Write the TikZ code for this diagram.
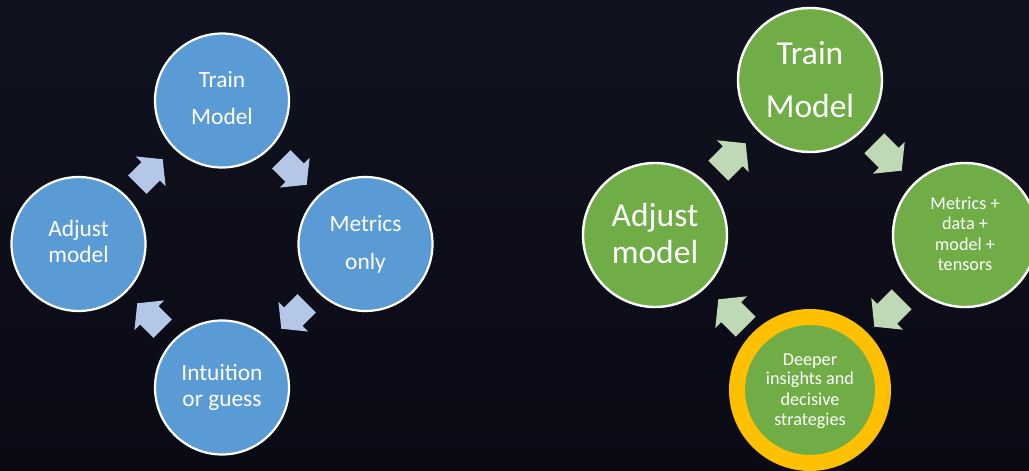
\documentclass[tikz,border=0pt]{standalone}
\usepackage{fontspec}
\setmainfont{Carlito}
\definecolor{bgtop}{HTML}{10121F}
\definecolor{bgbot}{HTML}{0A0A15}
\definecolor{cblue}{HTML}{5B9BD5}
\definecolor{ablue}{HTML}{B4C7E7}
\definecolor{cgreen}{HTML}{70AD47}
\definecolor{agreen}{HTML}{BFD8B5}
\definecolor{gold}{HTML}{FFC000}
\tikzset{
  disc/.style={circle, draw=white, inner sep=0pt},
  bluedisc/.style={disc, fill=cblue, minimum size=134pt, line width=2.2pt},
  greendisc/.style={disc, fill=cgreen, minimum size=144pt, line width=2.4pt},
  golddisc/.style={circle, inner sep=0pt, fill=cgreen, draw=gold, minimum size=146pt, line width=16pt},
  txt/.style={text=white, anchor=base, inner sep=0pt},
  tsmall/.style={txt, font=\fontsize{23.4}{28}\selectfont},
  tbig/.style={txt, font=\fontsize{33.5}{40}\selectfont},
  tfine/.style={txt, font=\fontsize{18.2}{22}\selectfont},
  blockarrow/.pic={
    \fill (-18,-13) -- (1,-13) -- (1,-21) -- (18,0) -- (1,21) -- (1,13) -- (-18,13) -- cycle;
  }
}
\begin{document}
\begin{tikzpicture}[x=1pt, y=-1pt]
\useasboundingbox (0,0) rectangle (1029,471);
\clip (0,0) rectangle (1029,471);
\shade[top color=bgtop, bottom color=bgbot] (0,0) rectangle (1029,471);

% ---- basic loop: metrics only ----
\node[bluedisc] (lt) at (222,100.5) {};
\node[bluedisc] (lr) at (365.5,244) {};
\node[bluedisc] (lb) at (222,387.5) {};
\node[bluedisc] (ll) at (78.5,244) {};

\node[tsmall] (lt1) at (222,87.7) {Train};
\node[tsmall] (lt2) at (222,124.5) {Model};
\node[tsmall] (lr1) at (365.5,231) {Metrics};
\node[tsmall] (lr2) at (365.5,269) {only};
\node[tsmall] (lb1) at (222,380) {Intuition};
\node[tsmall] (lb2) at (222,406.7) {or guess};
\node[tsmall] (ll1) at (78.5,236.7) {Adjust};
\node[tsmall] (ll2) at (78.5,262.5) {model};

\begin{scope}[ablue]
  \pic[rotate=45]   at (150,172) {blockarrow};
  \pic[rotate=-45]  at (294,172) {blockarrow};
  \pic[rotate=-135] at (294,316) {blockarrow};
  \pic[rotate=135]  at (150,316) {blockarrow};
\end{scope}

% ---- richer loop: metrics, data, model and tensors ----
\node[greendisc] (rt) at (810,80) {};
\node[greendisc] (rr) at (965,235) {};
\node[golddisc]  (rb) at (810,390) {};
\node[greendisc] (rl) at (655,235) {};

\node[tbig] (rt1) at (810,64) {Train};
\node[tbig] (rt2) at (810,117.3) {Model};
\node[tbig] (rl1) at (655,226) {Adjust};
\node[tbig] (rl2) at (655,263.3) {model};
\node[tfine] (rr1) at (965,209.3) {Metrics +};
\node[tfine] (rr2) at (965,229.5) {data +};
\node[tfine] (rr3) at (965,250) {model +};
\node[tfine] (rr4) at (965,270.7) {tensors};
\node[tfine] (rb1) at (810,365) {Deeper};
\node[tfine] (rb2) at (810,384.5) {insights and};
\node[tfine] (rb3) at (810,405) {decisive};
\node[tfine] (rb4) at (810,425.5) {strategies};

\begin{scope}[agreen]
  \pic[rotate=45,   scale=1.075] at (732,157) {blockarrow};
  \pic[rotate=-45,  scale=1.075] at (888,157) {blockarrow};
  \pic[rotate=-135, scale=1.075] at (888,313) {blockarrow};
  \pic[rotate=135,  scale=1.075] at (732,313) {blockarrow};
\end{scope}
\end{tikzpicture}
\end{document}
